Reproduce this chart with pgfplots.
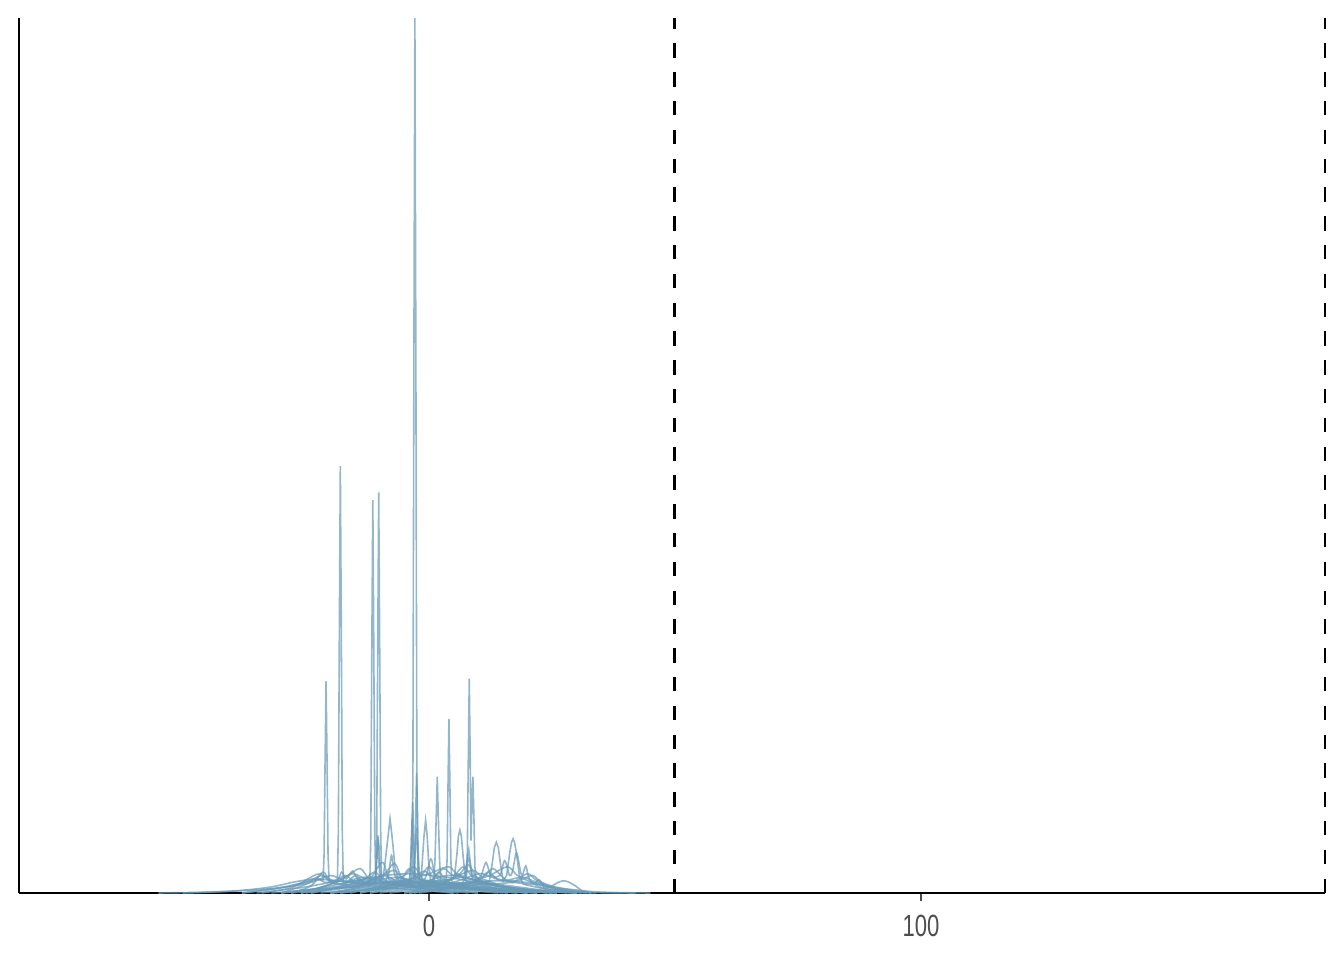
\documentclass[border=0pt]{standalone}
\usepackage{fontspec}
\setmainfont{Liberation Sans}
\usepackage{pgfplots}
\pgfplotsset{compat=1.18}

\definecolor{dens}{RGB}{104,154,184}
\definecolor{ticktext}{RGB}{77,77,77}

\begin{document}
\begin{tikzpicture}
\begin{axis}[
  name=ax,
  width=489.75pt, height=328.125pt,
  scale only axis,
  xmin=-83.3, xmax=182.1,
  ymin=0, ymax=1,
  axis x line*=bottom,
  axis y line*=left,
  axis line style={-, line width=0.9pt, black},
  ytick=\empty,
  xtick={0,100},
  tick align=outside,
  major tick length=3pt,
  x tick style={line width=0.5pt, black!70},
  x tick label style={font=\fontsize{11.5}{13}\selectfont, text=ticktext, xscale=0.72, yshift=-1.8pt},
  /pgf/number format/assume math mode=true,
  clip=false,
  dl/.style={draw=dens, no markers, line width=0.6pt, opacity=0.72},
]
% narrow spike curves
\addplot[dl] coordinates {(-32,0) (-24,0.004) (-14,0.007) (-6,0.009) (-3.45,0.01) (-3.25,0.135) (-3.05,0.61) (-2.85,1.0) (-2.65,0.61) (-2.45,0.135) (-2.25,0.01) (2,0.008) (10,0.006) (20,0.003) (30,0)};
\addplot[dl] coordinates {(-35,0) (-26,0.006) (-20,0.012) (-18.6,0.012) (-18.4,0.07) (-18.2,0.3) (-18.0,0.488) (-17.8,0.3) (-17.6,0.07) (-17.4,0.012) (-14,0.015) (-8,0.01) (0,0.005) (10,0)};
\addplot[dl] coordinates {(-30,0) (-22,0.005) (-15,0.01) (-12,0.012) (-11.8,0.07) (-11.6,0.28) (-11.4,0.449) (-11.2,0.28) (-11.0,0.07) (-10.8,0.012) (-5,0.01) (5,0.006) (15,0)};
\addplot[dl] coordinates {(-28,0) (-18,0.006) (-12,0.01) (-10.8,0.012) (-10.6,0.07) (-10.4,0.28) (-10.2,0.458) (-10.0,0.28) (-9.8,0.07) (-9.6,0.012) (-4,0.012) (-3.1,0.015) (-2.8,0.05) (-2.65,0.1) (-2.5,0.137) (-2.35,0.1) (-2.2,0.05) (-1.9,0.015) (5,0.008) (18,0)};
\addplot[dl] coordinates {(-38,0) (-28,0.008) (-23,0.015) (-21.5,0.015) (-21.3,0.045) (-21.1,0.15) (-20.9,0.242) (-20.7,0.15) (-20.5,0.045) (-20.3,0.015) (-16,0.012) (-8,0.006) (5,0)};
\addplot[dl] coordinates {(-10,0) (-2,0.006) (4,0.01) (7.6,0.012) (7.8,0.045) (8.0,0.15) (8.2,0.245) (8.4,0.15) (8.55,0.06) (8.7,0.09) (8.94,0.133) (9.15,0.085) (9.35,0.03) (9.6,0.012) (14,0.008) (22,0.003) (30,0)};
\addplot[dl] coordinates {(-20,0) (-10,0.005) (0,0.01) (3.5,0.012) (3.7,0.04) (3.9,0.13) (4.07,0.199) (4.25,0.13) (4.45,0.04) (4.65,0.012) (10,0.01) (20,0.004) (30,0)};
\addplot[dl] coordinates {(-22,0) (-12,0.006) (-4,0.01) (1.0,0.012) (1.25,0.04) (1.5,0.09) (1.7,0.133) (1.9,0.09) (2.15,0.04) (2.4,0.012) (10,0.008) (25,0)};
\addplot[dl] coordinates {(-25,0) (-16,0.008) (-10,0.014) (-9.3,0.018) (-8.9,0.035) (-8.4,0.06) (-7.9,0.085) (-7.4,0.06) (-6.9,0.03) (-6.4,0.018) (-2,0.012) (8,0.005) (18,0)};
\addplot[dl] coordinates {(-18,0) (-8,0.008) (-2,0.012) (-1.6,0.015) (-1.3,0.04) (-1.0,0.065) (-0.67,0.083) (-0.35,0.065) (-0.05,0.035) (0.3,0.015) (6,0.01) (16,0.004) (26,0)};
\addplot[dl] coordinates {(-26,0) (-16,0.007) (-11,0.012) (-10.7,0.03) (-10.5,0.05) (-10.3,0.064) (-10.1,0.05) (-9.9,0.03) (-9.6,0.012) (-4,0.012) (-3.7,0.03) (-3.5,0.07) (-3.3,0.104) (-3.1,0.07) (-2.9,0.03) (-2.6,0.012) (6,0.008) (20,0)};
\addplot[dl] coordinates {(-12,0) (-2,0.008) (4,0.013) (5.2,0.018) (5.7,0.045) (6.0,0.065) (6.3,0.072) (6.6,0.065) (6.9,0.045) (7.4,0.018) (14,0.008) (24,0)};
\addplot[dl] coordinates {(-5,0) (4,0.006) (10,0.01) (12.3,0.014) (12.9,0.035) (13.3,0.052) (13.7,0.058) (14.1,0.052) (14.5,0.035) (15.1,0.014) (15.8,0.02) (16.4,0.045) (16.8,0.058) (17.1,0.062) (17.4,0.058) (17.8,0.045) (18.4,0.02) (19.2,0.01) (24,0.004) (32,0)};
\addplot[dl] coordinates {(-24,0) (-14,0.008) (-8,0.012) (-3.9,0.014) (-3.6,0.05) (-3.4,0.085) (-3.2,0.05) (-2.9,0.015) (0,0.012) (8,0.006) (20,0)};
\addplot[dl] coordinates {(-20,0) (-12,0.008) (-10.9,0.012) (-10.6,0.04) (-10.4,0.066) (-10.2,0.04) (-9.9,0.012) (-4,0.015) (-3.0,0.018) (-2.7,0.06) (-2.5,0.075) (-2.3,0.05) (-2.0,0.016) (6,0.008) (16,0)};
\addplot[dl] coordinates {(-14,0) (-4,0.01) (5,0.016) (7.4,0.02) (7.8,0.04) (8.1,0.05) (8.4,0.035) (8.8,0.02) (14,0.01) (22,0.004) (28,0)};
% smoother multi-bump curves
\addplot[dl, smooth] coordinates {(-4,0) (4,0.006) (9,0.012) (10.6,0.02) (11.6,0.035) (12.6,0.02) (14.4,0.02) (15.4,0.037) (16.4,0.02) (17.0,0.025) (17.8,0.046) (18.6,0.025) (19.0,0.02) (19.7,0.031) (20.5,0.015) (23,0.006) (30,0)};
\addplot[dl, smooth] coordinates {(-3,0) (5,0.008) (7.2,0.015) (8.1,0.04) (9.0,0.015) (12,0.01) (17,0.012) (21,0.01) (22.4,0.015) (23.5,0.006) (25,0.008) (26.2,0.012) (27.4,0.014) (28.6,0.012) (29.8,0.008) (31.3,0.002) (33,0)};
\addplot[dl, smooth] coordinates {(-16,0) (-10,0.008) (-8.3,0.02) (-7.6,0.043) (-6.9,0.02) (-5,0.012) (-1,0.015) (0.4,0.039) (1.4,0.018) (4,0.012) (8,0.008) (14,0.004) (20,0)};
\addplot[dl, smooth] coordinates {(-38,0) (-32,0.004) (-27,0.01) (-24.5,0.014) (-22.8,0.017) (-21,0.012) (-18.5,0.016) (-17.7,0.024) (-16.8,0.016) (-15.5,0.025) (-14.2,0.014) (-11,0.01) (-6,0.008) (0,0.004) (6,0)};
\addplot[dl, smooth] coordinates {(-55,0) (-45,0.001) (-38,0.003) (-32,0.007) (-27,0.013) (-23,0.016) (-19,0.014) (-14,0.012) (-8,0.01) (-2,0.008) (6,0.005) (14,0.002) (22,0)};
\addplot[dl, smooth] coordinates {(-20,0) (-10,0.004) (0,0.008) (8,0.012) (14,0.014) (20,0.012) (24,0.008) (29,0.004) (35,0.001) (45,0)};
\addplot[dl, smooth] coordinates {(-30,0) (-22,0.006) (-15,0.014) (-9,0.02) (-4,0.022) (1,0.02) (6,0.016) (12,0.01) (18,0.005) (25,0)};
\addplot[dl, smooth] coordinates {(-26,0) (-19,0.012) (-15.5,0.022) (-12,0.015) (-6,0.018) (-2,0.012) (4,0.02) (9,0.015) (14,0.008) (20,0)};
\addplot[dl, smooth] coordinates {(-14,0) (-8,0.008) (-4,0.015) (-1,0.025) (1,0.018) (3,0.028) (5,0.02) (7,0.03) (9,0.018) (12,0.012) (18,0.004) (24,0)};
\addplot[dl, smooth] coordinates {(-30,0) (-25,0.01) (-22,0.02) (-19.5,0.012) (-17,0.018) (-14,0.028) (-12,0.016) (-9,0.02) (-6,0.012) (-2,0.006) (5,0)};
\addplot[dl, smooth] coordinates {(-5,0) (2,0.01) (6,0.02) (9,0.026) (11,0.018) (13,0.022) (16,0.03) (18,0.02) (21,0.012) (26,0.004) (30,0)};
\addplot[dl, smooth] coordinates {(-20,0) (-13,0.01) (-9.5,0.035) (-8,0.015) (-5,0.02) (-3,0.03) (-1,0.015) (2,0.012) (8,0.006) (16,0)};
\addplot[dl, smooth] coordinates {(-24,0) (-16,0.01) (-12,0.018) (-8,0.012) (-4,0.016) (0,0.022) (4,0.03) (6,0.02) (10,0.014) (16,0.006) (22,0)};
\addplot[dl, smooth] coordinates {(-8,0) (0,0.006) (6,0.014) (10,0.022) (12,0.02) (15,0.014) (19,0.018) (22,0.012) (27,0.004) (33,0)};
\addplot[dl, smooth] coordinates {(-50,0) (-40,0.002) (-30,0.006) (-24,0.012) (-20,0.02) (-17,0.014) (-13,0.018) (-9,0.012) (-4,0.009) (3,0.006) (12,0.003) (25,0.001) (42,0)};
\addplot[dl, smooth] coordinates {(-28,0) (-24,0.008) (-21.5,0.024) (-20,0.012) (-17,0.01) (-15,0.02) (-13,0.012) (-10,0.018) (-7,0.026) (-5,0.014) (-1,0.01) (6,0.004) (14,0)};
\addplot[dl, smooth] coordinates {(-18,0) (-10,0.006) (-6,0.014) (-4,0.028) (-2.5,0.018) (0,0.012) (2,0.024) (3.5,0.015) (6,0.02) (8,0.032) (10,0.016) (13,0.01) (20,0.003) (26,0)};
\addplot[dl, smooth] coordinates {(-4,0) (3,0.006) (8,0.012) (11,0.018) (13,0.028) (15,0.018) (17,0.012) (20,0.022) (22,0.014) (25,0.006) (31,0)};
\addplot[dl, smooth] coordinates {(-34,0) (-28,0.006) (-24,0.018) (-22,0.022) (-19,0.012) (-16,0.01) (-13,0.016) (-11,0.024) (-9,0.015) (-5,0.01) (0,0.005) (8,0)};
\addplot[dl, smooth] coordinates {(-12,0) (-6,0.008) (-2,0.018) (0,0.03) (1.5,0.02) (4,0.014) (6,0.022) (7.5,0.014) (10,0.01) (15,0.004) (22,0)};
\addplot[dl, smooth] coordinates {(-26,0) (-20,0.01) (-17,0.02) (-15,0.012) (-12,0.014) (-9,0.022) (-7,0.034) (-5.5,0.018) (-3,0.012) (2,0.006) (10,0)};
\addplot[dl, smooth] coordinates {(-2,0) (5,0.006) (10,0.014) (12,0.024) (14,0.016) (18,0.014) (21,0.02) (23,0.012) (27,0.005) (34,0)};
% threshold lines
\addplot[black, no markers, line width=1.1pt, dash pattern=on 5.4pt off 5.4pt] coordinates {(50,0) (50,1)};
\addplot[black, no markers, line width=0.75pt, dash pattern=on 5.4pt off 5.4pt] coordinates {(182.1,0) (182.1,1)};
\path (rel axis cs:0,0) ++(-7.125pt,-25.125pt) coordinate (bbsw);
\path (rel axis cs:1,1) ++(7.125pt,6.75pt) coordinate (bbne);
\end{axis}
\pgfresetboundingbox
\path[use as bounding box] (bbsw) rectangle (bbne);
\end{tikzpicture}
\end{document}
